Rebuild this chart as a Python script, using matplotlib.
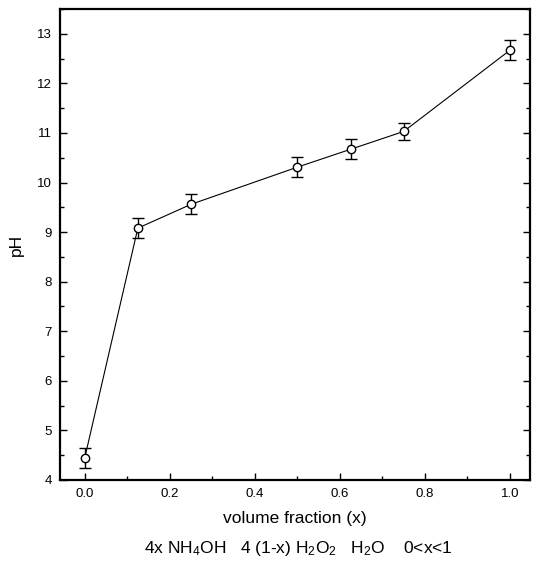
import matplotlib
matplotlib.use('Agg')
import matplotlib.pyplot as plt
from matplotlib.ticker import MultipleLocator

plt.rcParams['font.family'] = ['Liberation Sans', 'DejaVu Sans']
plt.rcParams['mathtext.fontset'] = 'custom'
plt.rcParams['mathtext.rm'] = 'Liberation Sans'
plt.rcParams['mathtext.it'] = 'Liberation Sans:italic'
plt.rcParams['mathtext.default'] = 'rm'

# data
fraction = [0.0, 0.125, 0.25, 0.5, 0.625, 0.75, 1.0]
ph = [4.44, 9.08, 9.56, 10.31, 10.67, 11.03, 12.67]
ph_err = [0.2, 0.2, 0.2, 0.2, 0.2, 0.18, 0.2]
xticks = [0.0, 0.2, 0.4, 0.6, 0.8, 1.0]
yticks = [4, 5, 6, 7, 8, 9, 10, 11, 12, 13]

fig = plt.figure(figsize=(5.37, 5.66), dpi=100)
ax = fig.add_axes([60 / 537, 1 - 480 / 566, 470 / 537, 471 / 566])

ax.errorbar(fraction, ph, yerr=ph_err, color='black', lw=0.8, marker='o',
            ms=6, mfc='white', mec='black', mew=1.0, capsize=4,
            elinewidth=1.0, capthick=1.0)

ax.set_xlim(-0.058, 1.047)
ax.set_ylim(4, 13.5)
ax.set_xticks(xticks)
ax.set_xticklabels([f'{t:.1f}' for t in xticks])
ax.set_yticks(yticks)
ax.xaxis.set_minor_locator(MultipleLocator(0.1))
ax.yaxis.set_minor_locator(MultipleLocator(0.5))
ax.tick_params(which='both', direction='in', right=True, top=False,
               labelsize=9.5, width=1.0)
ax.tick_params(which='major', length=5, pad=6)
ax.tick_params(which='minor', length=3)
for s in ax.spines.values():
    s.set_linewidth(1.6)

ax.set_xlabel('volume fraction (x)', fontsize=12.5, labelpad=8)
ax.set_ylabel('pH', fontsize=12.5, labelpad=9)

fig.text(0.5 * (142 + 455) / 537, 1 - 548 / 566,
         r'4x NH$_4$OH   4 (1-x) H$_2$O$_2$   H$_2$O    0<x<1',
         ha='center', va='center', fontsize=12.5)

fig.savefig('out.png', dpi=100)
